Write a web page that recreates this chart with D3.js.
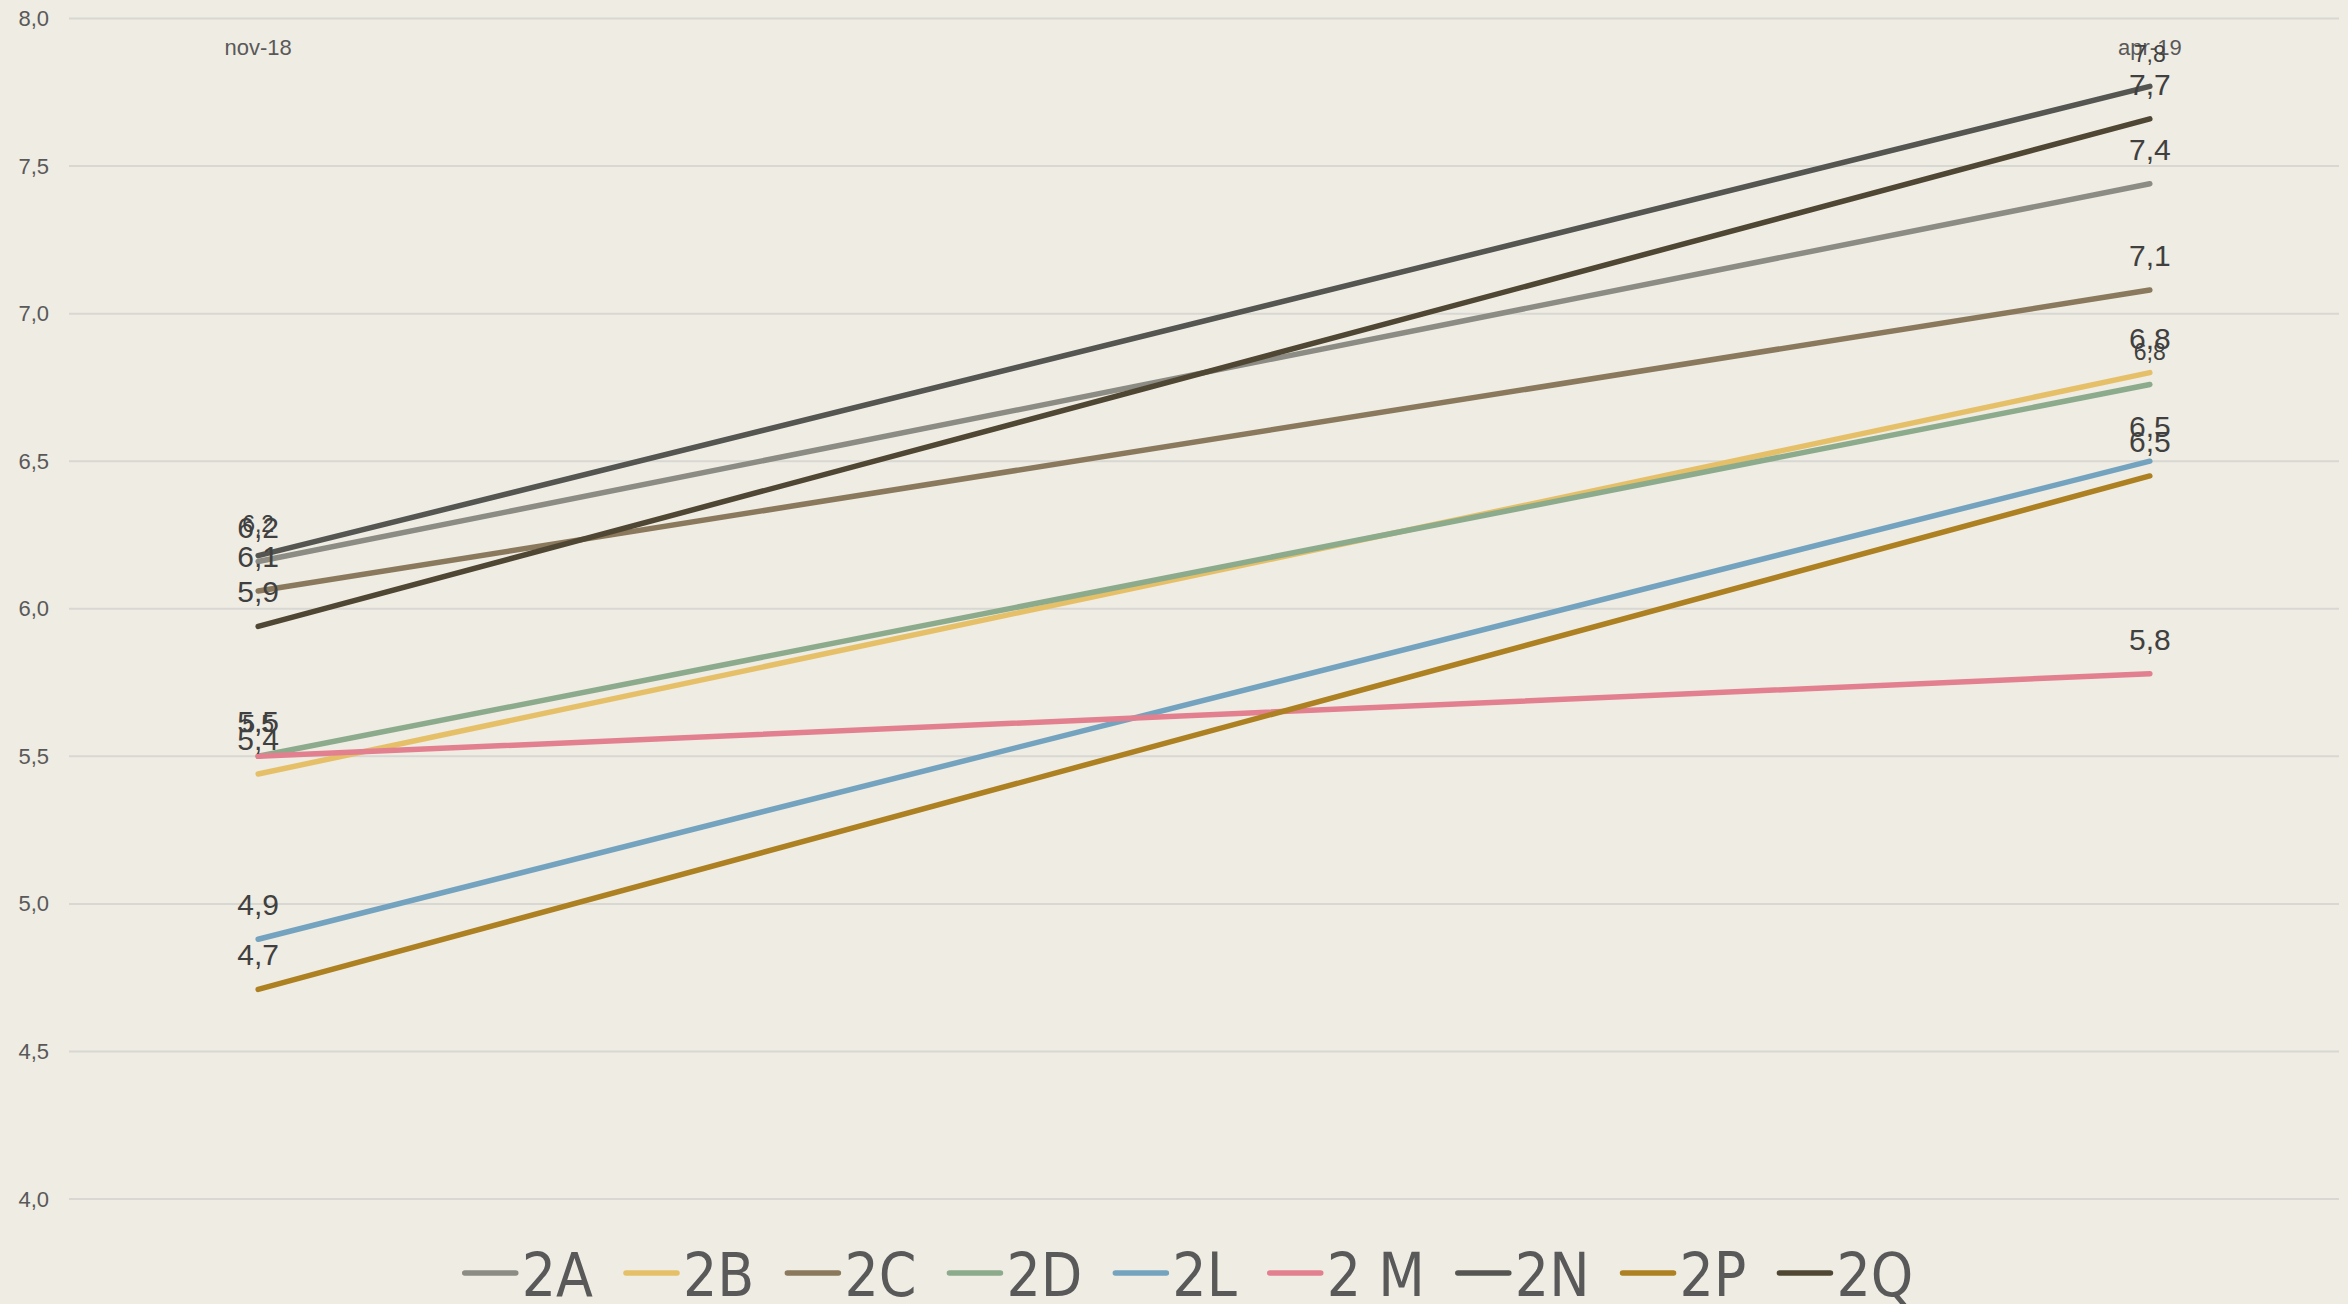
<!DOCTYPE html>
<html>
<head>
<meta charset="utf-8">
<script src="https://cdnjs.cloudflare.com/ajax/libs/d3/7.8.5/d3.min.js"></script>
<style>
  html, body { margin: 0; padding: 0; background: #efece3; }
  svg { display: block; }
</style>
</head>
<body>
<script>
// months on the date axis (only first and last carry data / labels)
var months = ["nov-18", "dec-18", "jan-19", "feb-19", "mar-19", "apr-19"];
var shownTicks = ["nov-18", "apr-19"];
var dataMonths = ["nov-18", "apr-19"];

var series = ["2A", "2B", "2C", "2D", "2L", "2 M", "2N", "2P", "2Q"];
var valNov = [6.16, 5.44, 6.06, 5.50, 4.88, 5.50, 6.18, 4.71, 5.94];
var valApr = [7.44, 6.80, 7.08, 6.76, 6.50, 5.78, 7.77, 6.45, 7.66];
var colors = ["#8c8c85", "#e6c068", "#8a795c", "#8cab8c", "#74a3bf", "#e2808f", "#555651", "#ad8022", "#4f4734"];
var smallLabel = [false, false, false, true, false, false, true, false, false];

var yTicks = [4.0, 4.5, 5.0, 5.5, 6.0, 6.5, 7.0, 7.5, 8.0];

var W = 2348, H = 1304;
var svg = d3.select("body").append("svg").attr("width", W).attr("height", H);
svg.append("rect").attr("width", W).attr("height", H).attr("fill", "#efece3");

var x = d3.scaleLinear().domain([-0.5, months.length - 0.5]).range([69, 2339]);
var y = d3.scaleLinear().domain([4, 8]).range([1199, 18.5]);
var fmt = function(v) { return d3.format(".1f")(v).replace(".", ","); };

// gridlines
svg.append("g").selectAll("line").data(yTicks).enter().append("line")
  .attr("x1", x.range()[0]).attr("x2", x.range()[1])
  .attr("y1", function(d) { return y(d); }).attr("y2", function(d) { return y(d); })
  .attr("stroke", "#d8d7d2").attr("stroke-width", 2);

// y axis labels
var yAxis = d3.axisLeft(y).tickValues(yTicks).tickFormat(fmt).tickSize(0).tickPadding(0);
var gy = svg.append("g").attr("transform", "translate(49,0)").call(yAxis);
gy.select(".domain").remove();
gy.selectAll("text").attr("font-family", "'Liberation Sans', Arial, sans-serif")
  .attr("font-size", 22).attr("fill", "#595959");

// x tick labels at top
svg.append("g").selectAll("text").data(shownTicks).enter().append("text")
  .attr("x", function(d) { return x(months.indexOf(d)); })
  .attr("y", 55)
  .attr("text-anchor", "middle")
  .attr("font-family", "'Liberation Sans', Arial, sans-serif")
  .attr("font-size", 22).attr("fill", "#595959")
  .text(function(d) { return d; });

// lines
var line = d3.line()
  .x(function(d) { return x(months.indexOf(d.m)); })
  .y(function(d) { return y(d.v); });

var rows = series.map(function(s, i) {
  return { name: s, color: colors[i], small: smallLabel[i],
           pts: [{ m: dataMonths[0], v: valNov[i] }, { m: dataMonths[1], v: valApr[i] }] };
});

svg.append("g").selectAll("path").data(rows).enter().append("path")
  .attr("d", function(d) { return line(d.pts); })
  .attr("fill", "none")
  .attr("stroke", function(d) { return d.color; })
  .attr("stroke-width", 5.5)
  .attr("stroke-linecap", "round");

// data labels
var lbl = svg.append("g");
rows.forEach(function(r) {
  lbl.selectAll(null).data(r.pts).enter().append("text")
    .attr("x", function(d) { return x(months.indexOf(d.m)); })
    .attr("y", function(d) { return y(d.v) - 24; })
    .attr("text-anchor", "middle")
    .attr("font-family", "'Liberation Sans', Arial, sans-serif")
    .attr("font-size", r.small ? 23 : 30)
    .attr("fill", "#404040")
    .text(function(d) { return fmt(d.v); });
});

// legend
var leg = svg.append("g");
var cx = 0;
rows.forEach(function(r) {
  var g = leg.append("g").attr("transform", "translate(" + cx + ",0)");
  g.append("line").attr("x1", 2).attr("x2", 53).attr("y1", 1273).attr("y2", 1273)
    .attr("stroke", r.color).attr("stroke-width", 5.5).attr("stroke-linecap", "round");
  var t = g.append("text").attr("x", 59).attr("y", 1296)
    .attr("font-family", "'Liberation Sans Narrow', 'DejaVu Sans Condensed', sans-serif")
    .attr("font-size", 60).attr("fill", "#595959")
    .text(r.name);
  cx += 59 + t.node().getComputedTextLength() + 31;
});
var legW = cx - 31;
leg.attr("transform", "translate(" + (1188 - legW / 2) + ",0)");
</script>
</body>
</html>
